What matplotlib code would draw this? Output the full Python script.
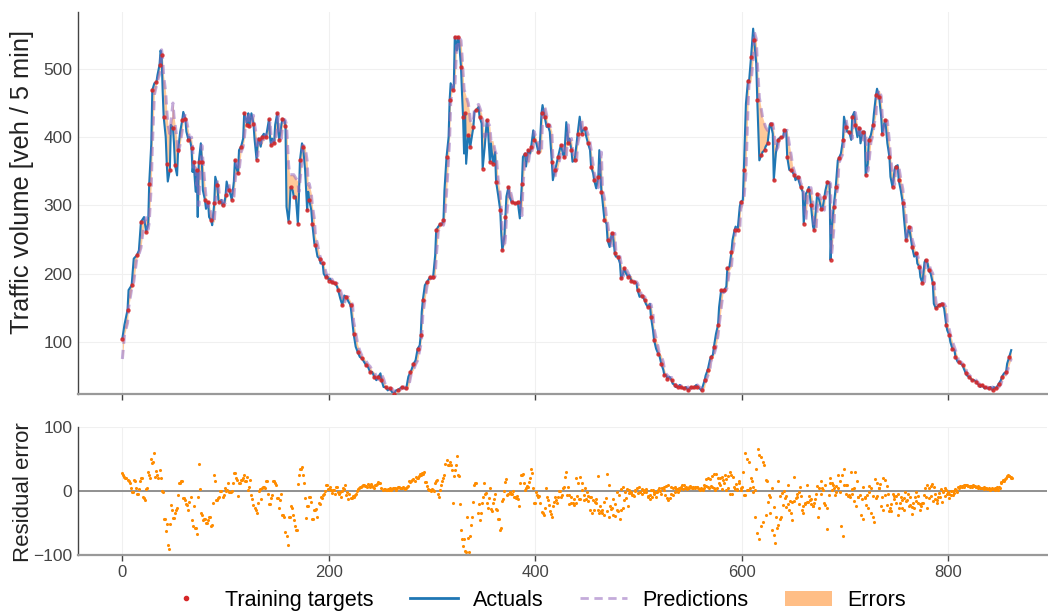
import numpy as np
import matplotlib
matplotlib.use("Agg")
import matplotlib.pyplot as plt
from matplotlib.lines import Line2D
from matplotlib.patches import Patch

# sample index (5 min steps)
t = [0, 2, 5, 6, 9, 11, 14, 16, 18, 21,
     23, 25, 26, 28, 29, 31, 33, 34, 36, 37,
     38, 39, 40, 42, 43, 44, 46, 47, 49, 50,
     51, 53, 54, 56, 58, 59, 61, 62, 64, 65,
     67, 68, 69, 71, 72, 73, 74, 76, 77, 78,
     80, 81, 83, 84, 86, 87, 89, 90, 92, 93,
     94, 96, 97, 99, 100, 101, 103, 104, 106, 108,
     109, 111, 112, 113, 115, 117, 118, 120, 121, 122,
     123, 125, 127, 128, 130, 131, 132, 134, 135, 137,
     139, 140, 142, 143, 144, 145, 147, 148, 150, 151,
     152, 154, 155, 157, 158, 159, 161, 162, 163, 165,
     166, 168, 170, 171, 172, 174, 175, 177, 179, 180,
     181, 183, 184, 186, 187, 189, 191, 192, 194, 195,
     197, 198, 200, 201, 203, 204, 206, 208, 209, 211,
     213, 215, 217, 219, 221, 223, 224, 226, 228, 230,
     232, 234, 236, 238, 240, 242, 244, 246, 248, 250,
     251, 253, 255, 257, 259, 261, 263, 265, 267, 269,
     271, 273, 275, 277, 279, 280, 282, 284, 286, 288,
     289, 290, 291, 293, 295, 296, 298, 299, 301, 303,
     304, 306, 308, 309, 311, 312, 314, 316, 317, 318,
     320, 321, 322, 324, 325, 326, 328, 329, 330, 331,
     332, 333, 335, 336, 337, 338, 340, 341, 343, 345,
     346, 348, 349, 351, 353, 354, 356, 357, 359, 361,
     362, 364, 366, 367, 368, 370, 371, 372, 374, 375,
     377, 378, 380, 382, 383, 385, 387, 388, 390, 391,
     393, 395, 396, 398, 399, 401, 403, 404, 406, 407,
     409, 411, 412, 414, 416, 417, 419, 420, 422, 424,
     425, 427, 428, 430, 432, 433, 435, 436, 438, 440,
     441, 443, 445, 446, 448, 449, 451, 453, 454, 456,
     457, 459, 461, 462, 464, 465, 467, 469, 470, 472,
     474, 475, 477, 478, 480, 482, 483, 485, 486, 488,
     490, 491, 493, 494, 496, 498, 499, 501, 503, 504,
     506, 507, 509, 511, 512, 514, 515, 517, 519, 520,
     522, 524, 525, 527, 528, 530, 532, 533, 535, 536,
     538, 540, 541, 543, 544, 546, 548, 549, 551, 553,
     554, 556, 557, 559, 561, 562, 564, 565, 567, 569,
     570, 572, 573, 575, 577, 578, 580, 582, 583, 585,
     586, 588, 590, 591, 593, 594, 596, 598, 599, 601,
     602, 604, 606, 607, 609, 611, 612, 614, 615, 617,
     619, 620, 622, 623, 625, 627, 628, 630, 631, 633,
     635, 636, 638, 640, 641, 643, 644, 646, 648, 649,
     651, 652, 654, 656, 657, 659, 660, 662, 664, 665,
     667, 669, 670, 672, 673, 675, 677, 678, 680, 681,
     683, 685, 686, 687, 689, 690, 691, 693, 694, 696,
     698, 699, 701, 702, 704, 706, 707, 709, 710, 712,
     714, 715, 717, 719, 720, 722, 723, 725, 727, 728,
     730, 731, 733, 735, 736, 738, 739, 741, 743, 744,
     746, 748, 749, 751, 752, 754, 756, 757, 759, 760,
     762, 764, 765, 767, 769, 770, 772, 773, 775, 777,
     778, 780, 781, 783, 785, 786, 788, 789, 791, 793,
     794, 796, 798, 799, 801, 802, 804, 806, 807, 809,
     810, 812, 814, 815, 817, 818, 820, 822, 823, 825,
     827, 828, 830, 831, 833, 835, 836, 838, 839, 841,
     843, 844, 846, 847, 849, 851, 852, 854, 856, 857,
     859, 861]

actual = [105, 125, 147, 176, 183, 222, 227, 234, 276, 283,
          261, 273, 332, 390, 469, 479, 481, 491, 506, 527,
          520, 469, 430, 400, 361, 335, 352, 418, 413, 391,
          359, 344, 381, 408, 425, 437, 427, 408, 396, 400,
          384, 349, 364, 320, 352, 283, 364, 391, 364, 322,
          308, 295, 305, 283, 278, 271, 303, 342, 330, 308,
          305, 308, 300, 305, 315, 335, 322, 320, 308, 335,
          366, 352, 347, 381, 386, 398, 435, 425, 418, 435,
          416, 435, 420, 398, 367, 391, 398, 386, 400, 405,
          400, 408, 426, 400, 388, 398, 391, 418, 435, 408,
          396, 418, 427, 425, 416, 298, 276, 298, 327, 322,
          313, 313, 273, 313, 366, 391, 386, 352, 293, 320,
          308, 293, 273, 244, 242, 225, 222, 215, 215, 200,
          195, 198, 190, 193, 188, 186, 186, 181, 176, 164,
          154, 168, 166, 159, 154, 125, 112, 93, 85, 78,
          76, 71, 66, 63, 56, 56, 49, 44, 49, 54,
          44, 34, 34, 29, 32, 27, 24, 29, 30, 32,
          34, 32, 32, 49, 56, 59, 68, 73, 90, 95,
          110, 144, 161, 183, 188, 190, 195, 193, 195, 227,
          264, 269, 273, 271, 278, 322, 371, 400, 454, 479,
          469, 472, 547, 527, 547, 542, 503, 464, 430, 376,
          435, 361, 403, 400, 386, 396, 415, 437, 440, 444,
          430, 420, 354, 386, 425, 415, 364, 391, 361, 378,
          335, 315, 293, 259, 234, 254, 283, 313, 327, 313,
          305, 305, 303, 303, 305, 281, 332, 371, 376, 357,
          381, 376, 386, 410, 396, 391, 378, 378, 435, 447,
          430, 415, 418, 408, 364, 337, 352, 357, 371, 384,
          388, 374, 371, 422, 391, 398, 381, 364, 366, 391,
          405, 430, 405, 410, 413, 403, 391, 381, 357, 347,
          337, 325, 342, 381, 320, 308, 278, 273, 249, 239,
          259, 259, 230, 225, 225, 215, 193, 200, 208, 200,
          195, 198, 190, 188, 188, 186, 176, 166, 168, 166,
          161, 156, 151, 156, 137, 117, 103, 90, 83, 81,
          68, 59, 51, 51, 46, 49, 44, 39, 37, 34,
          34, 37, 34, 32, 32, 34, 29, 32, 34, 32,
          34, 37, 34, 32, 29, 34, 44, 51, 59, 73,
          78, 81, 93, 112, 125, 151, 176, 173, 176, 181,
          208, 210, 232, 249, 264, 269, 264, 298, 305, 308,
          352, 449, 483, 481, 518, 559, 542, 508, 454, 366,
          374, 378, 381, 386, 391, 418, 420, 405, 337, 376,
          396, 398, 400, 400, 410, 410, 371, 352, 352, 349,
          344, 337, 342, 332, 327, 320, 273, 317, 322, 327,
          300, 269, 264, 298, 317, 308, 295, 293, 313, 322,
          335, 332, 220, 264, 298, 313, 327, 366, 369, 376,
          396, 430, 415, 408, 408, 396, 430, 437, 418, 400,
          413, 391, 408, 408, 344, 361, 396, 403, 418, 435,
          462, 471, 459, 430, 405, 420, 425, 391, 371, 342,
          327, 352, 357, 359, 337, 322, 303, 283, 249, 254,
          269, 249, 239, 225, 230, 215, 210, 195, 186, 217,
          220, 215, 205, 200, 186, 156, 149, 151, 154, 156,
          156, 149, 125, 117, 110, 100, 90, 88, 78, 71,
          71, 68, 66, 61, 54, 51, 49, 46, 44, 44,
          42, 39, 37, 34, 37, 32, 34, 32, 32, 34,
          29, 34, 32, 34, 39, 44, 49, 54, 56, 68,
          78, 88]

predicted = [75, 110, 128, 150, 178, 188, 222, 228, 238, 274,
             282, 265, 275, 330, 385, 462, 476, 482, 492, 506,
             528, 515, 490, 465, 440, 420, 405, 420, 450, 430,
             420, 395, 375, 390, 410, 424, 435, 425, 410, 398,
             400, 386, 356, 362, 330, 350, 300, 360, 388, 366,
             330, 312, 298, 303, 288, 280, 275, 302, 338, 332,
             312, 306, 307, 302, 305, 314, 333, 324, 320, 311,
             332, 362, 354, 350, 378, 386, 396, 430, 426, 420,
             432, 420, 432, 420, 400, 372, 388, 396, 388, 398,
             404, 401, 407, 424, 402, 390, 396, 392, 415, 432,
             412, 398, 415, 426, 424, 418, 360, 345, 345, 345,
             345, 340, 335, 320, 335, 365, 388, 386, 365, 330,
             332, 318, 300, 280, 255, 244, 228, 223, 216, 215,
             203, 197, 198, 191, 192, 189, 186, 186, 182, 177,
             166, 156, 166, 166, 160, 155, 130, 114, 96, 87,
             80, 77, 72, 67, 64, 58, 56, 50, 45, 48,
             53, 46, 36, 34, 30, 32, 28, 25, 28, 30,
             32, 34, 32, 32, 47, 55, 59, 67, 73, 88,
             95, 108, 140, 160, 181, 188, 190, 195, 193, 196,
             224, 262, 269, 273, 271, 277, 318, 368, 398, 450,
             476, 470, 472, 540, 530, 546, 542, 520, 495, 470,
             465, 460, 450, 440, 425, 420, 425, 440, 445, 448,
             444, 435, 425, 400, 405, 422, 416, 395, 395, 380,
             376, 338, 317, 295, 262, 238, 252, 281, 312, 326,
             314, 306, 305, 303, 303, 305, 285, 328, 368, 376,
             360, 380, 377, 385, 408, 397, 391, 379, 378, 430,
             446, 432, 416, 418, 409, 368, 340, 350, 356, 370,
             383, 388, 375, 371, 418, 393, 398, 383, 366, 366,
             390, 404, 428, 407, 410, 413, 404, 392, 382, 360,
             348, 338, 326, 341, 378, 324, 310, 281, 274, 252,
             241, 257, 259, 233, 226, 225, 216, 196, 200, 207,
             201, 196, 198, 191, 188, 188, 186, 178, 168, 168,
             166, 162, 157, 152, 155, 140, 120, 105, 92, 84,
             81, 70, 60, 52, 51, 47, 48, 45, 40, 37,
             35, 34, 36, 34, 32, 32, 34, 30, 32, 34,
             32, 34, 37, 34, 32, 30, 33, 42, 50, 58,
             71, 77, 81, 92, 110, 124, 149, 174, 173, 176,
             181, 205, 210, 230, 248, 263, 268, 265, 295, 305,
             308, 348, 444, 480, 481, 515, 555, 544, 510, 458,
             440, 430, 420, 415, 410, 412, 420, 420, 410, 380,
             385, 395, 398, 400, 402, 409, 410, 390, 372, 360,
             349, 344, 338, 341, 333, 327, 318, 278, 314, 322,
             326, 303, 272, 265, 295, 316, 309, 296, 293, 311,
             321, 334, 332, 228, 262, 296, 312, 326, 362, 369,
             376, 394, 427, 416, 408, 408, 398, 428, 436, 419,
             402, 412, 393, 407, 408, 350, 360, 392, 403, 417,
             433, 460, 470, 460, 432, 408, 419, 424, 393, 373,
             346, 330, 350, 357, 358, 339, 324, 305, 286, 253,
             255, 268, 251, 240, 227, 229, 216, 210, 197, 188,
             214, 219, 215, 206, 200, 188, 160, 150, 151, 154,
             156, 156, 150, 128, 118, 111, 101, 92, 88, 79,
             72, 71, 68, 66, 62, 55, 52, 49, 47, 44,
             44, 42, 39, 37, 35, 36, 32, 34, 32, 32,
             34, 30, 33, 32, 34, 38, 43, 48, 53, 56,
             66, 76]

# residual error, samples 0..428 (even) and 1..429 (odd)
resid_a_even = [28, 22, 20, 15, 4, -1, 16, -4, 3, 20,
                -10, -14, 5, 25, 50, 45, 22, 25, 33, 0,
                -44, -62, -84, -52, -30, -42, -30, -6, 12, 15,
                -11, -20, -30, -9, -55, -58, -67, 42, -34, -45,
                -43, -50, -40, -55, -19, 15, -14, -9, 0, -6,
                0, 12, -2, 0, 28, 20, -8, 12, 17, 25,
                16, 2, 17, -13, -26, -34, 0, -12, 7, 4,
                16, -20, -11, 15, 12, -11, -26, -4, -37, -64,
                -84, -40, -27, -45, -61, 11, 34, 38, 13, -42,
                -24, -9, -43, -30, -28, -19, -9, -7, 0, 9,
                3, 2, 1, -4, 6, -5, -10, 5, 9, -1,
                -5, -11, -9, -5, 3, 6, 8, 9, 8, 11,
                7, 8, 4, 9, 14, 12, 1, 3, 1, 2,
                2, 4, 5, 4, 6, 4, 6, 3, 6, 15,
                16, 18, 22, 20, 26, 28, 29, 14, 3, 2,
                3, 0, 15, -5, 2, 15, 25, 48, 40, 41,
                -19, 33, 55, 23, -61, -86, -93, -40, -96, -53,
                -17, 12, -35, -45, -18, 12, -3, -26, 5, -31,
                -12, -28, -44, -61, -15, 0, 18, -4, -5, 0,
                -10, -8, -24, 25, 26, 1, 8, 14, 35, 4,
                -18, -6, -8, -33, -37, 4, -14, -31, -40, -17,
                -14, -10, 0, -6, 7]

resid_a_odd = [25, 21, 17, 12, -1, 17, 5, -4, 15, 21,
               -11, 3, 30, 21, 44, 60, 31, 20, 21, -2,
               -44, -52, -90, -22, -42, -35, -27, 12, 15, -11,
               -14, -22, -17, -45, -23, -58, -9, 3, -37, -43,
               -50, -45, -40, -53, 25, -14, -11, 0, -10, 5,
               2, -2, -1, 12, 28, 17, 12, 17, 20, 15,
               22, 6, -6, -22, -30, -19, 3, 4, 7, 15,
               -4, -20, -6, 15, 10, -11, -14, -37, -40, -70,
               -40, -24, -37, -55, -61, 25, 34, 25, -11, -24,
               -9, -17, -43, -30, -40, -20, -11, -5, 9, 3,
               7, -3, 2, 6, -1, -1, 0, 3, -6, -12,
               -11, -8, -6, 0, 5, 7, 10, 8, 7, 10,
               11, 6, 9, 11, 13, 4, 3, 2, 3, 4,
               3, 5, 2, 6, 4, 5, 5, 5, 8, 14,
               17, 16, 20, 23, 25, 27, 14, 8, 2, 0,
               2, 13, 17, -10, 10, 20, 42, 40, 45, 33,
               23, 40, 25, -20, -75, -75, -96, -74, -70, -40,
               10, 12, -20, -35, -10, -5, -19, -11, -28, -19,
               -5, -30, -43, -58, -13, 14, -7, -2, -5, -9,
               -11, -12, 12, 25, 13, 5, 6, 20, 28, -19,
               -1, -9, -18, -34, -27, -10, -22, -36, -23, -10,
               -18, 0, -9, 4, 22]

# residual error, samples 430..862 (read left to right) and odd samples 431..861
resid_b = [29, 7, -6, -9, -19, -22, -19, -8, -13, 22, 13, -14, 4, -1, -8, -9,
           -10, -14, -17, -18, -30, -35, -32, -30, -17, -11, 26, 9, -23, -27,
           -37, -39, -30, -32, -43, -30, -26, -14, -11, -23, -3, -1, -6, -8,
           2, 4, 7, -1, -4, 2, 2, -1, -9, -6, 1, 2, -1, -9, -1, 4, -4, 4, 2,
           -6, -11, -14, -11, -5, -6, -1, 3, -1, 2, 7, 9, 9, 7, 4, 4, 8, 4, 6,
           4, 6, 4, 2, 4, 2, 4, 8, 6, 4, 8, 7, 4, 1, 4, 13, 20, 22, 17, 25,
           18, 23, 29, 25, 22, 7, 11, 1, 15, 1, 7, -6, -6, 2, 1, 4, 15, 7, 2,
           35, 65, 56, 53, 46, 41, 17, 15, -6, -34, -61, -69, -82, -58, -53,
           -43, -40, -22, -11, -8, 9, -29, -35, -45, 22, -11, -5, -1, 7, -30,
           -23, -18, -17, -17, -14, -13, -23, -19, -5, -41, -27, 16, 4, -19,
           -22, -26, -6, 13, 2, 9, -6, -1, 4, 15, -55, -71, 35, 9, 9, -6, 30,
           -5, 4, 30, 16, -9, -6, -13, 7, -11, -22, -26, -1, -34, -40, -48,
           -11, -8, 4, 11, -10, 20, 17, 8, -5, -27, -32, -4, -8, -19, -37,
           -27, -9, -14, -11, -1, -14, -24, -22, -36, -19, -10, -1, -19, -29,
           -24, -19, -6, -9, -26, -11, 8, 11, 7, -5, -19, -10, -10, -17, -1,
           4, 2, -1, -11, -6, -6, -3, 2, -1, 4, 8, 7, 7, 9, 9, 8, 7, 8, 9, 8,
           7, 8, 7, 4, 4, 6, 4, 3, 4, 2, 4, 3, 2, 7, 2, 4, 12, 17, 15, 21,
           25, 23, 21, 20]

resid_b_odd = [-6, -20, -19, -12, 20, 13, -12, 2, -7, -12,
               -16, -30, -34, -30, -13, 24, -23, -35, -38, -31,
               -40, -28, -12, -20, -2, -6, 3, 6, -2, 3,
               1, -3, -7, 0, -3, -2, 3, -2, 3, -8,
               -13, -9, -4, -2, 2, 0, 4, 6, 8, 9,
               6, 5, 7, 3, 5, 5, 3, 5, 3, 6,
               7, 5, 6, 7, 3, 3, 9, 18, 21, 19,
               24, 26, 27, 20, 9, 3, 13, 2, 4, -4,
               -4, 3, 3, 12, 4, 30, 60, 50, 45, 20,
               -2, -40, -65, -75, -55, -48, -38, -17, -9, 5,
               -25, -40, 15, -8, -3, 0, -25, -20, -16, -17,
               -15, -10, -20, -8, -35, -20, 10, -8, -20, -24,
               -12, 8, 5, -4, 2, 10, -60, 20, 12, 5,
               8, 25, -2, 25, 10, -5, -8, -10, 3, -15,
               -24, -10, -37, -44, -9, -6, 8, 5, -8, 18,
               12, 4, -24, -29, -6, -22, -32, -20, -12, -8,
               -5, -18, -26, -30, -15, -5, -10, -25, -27, -16,
               -8, -20, -18, 5, 9, 4, -8, -15, -12, -14,
               -3, 3, 0, -8, -4, -4, 0, 0, 3, 6,
               6, 8, 9, 9, 8, 8, 6, 8, 6, 5,
               5, 5, 3, 4, 3, 3, 3, 5, 3, 6,
               14, 16, 19, 23, 24, 22]

x_ticks = [0, 200, 400, 600, 800]
y_ticks_top = [100, 200, 300, 400, 500]
y_ticks_res = [-100, 0, 100]

plt.rcParams["font.family"] = ["Liberation Sans", "DejaVu Sans"]

t = np.array(t)
actual = np.array(actual)
predicted = np.array(predicted)
res_t = np.concatenate([np.arange(0, 430, 2), np.arange(1, 430, 2),
                        np.linspace(430, 862, len(resid_b)), np.arange(431, 862, 2)])
resid = np.concatenate([resid_a_even, resid_a_odd, resid_b, resid_b_odd])

fig = plt.figure(figsize=(10.48, 6.13), dpi=100)
ax1 = fig.add_axes([0.0744, 0.357, 0.925, 0.623])
ax2 = fig.add_axes([0.0744, 0.0946, 0.925, 0.2088], sharex=ax1)

# top panel
ax1.fill_between(t, actual, predicted, color="#ff7f0e", alpha=0.42, lw=0, zorder=1)
ax1.plot(t, actual, color="#1f77b4", lw=1.5, zorder=2)
ax1.plot(t, predicted, color="#9467bd", lw=2.2, alpha=0.55, ls=(0, (3, 2)), zorder=3)
ax1.plot(t[::2], actual[::2], "o", color="#d62728", ms=2.2, alpha=0.8, zorder=4)

# bottom panel
ax2.axhline(0, color="#888888", lw=1.3, zorder=1)
ax2.scatter(res_t, resid, s=5, color="#ff8c00", lw=0, zorder=2)

ax1.set_xlim(-43, 896)
ax1.set_ylim(23.5, 583)
ax2.set_ylim(-100, 100)
ax1.set_xticks(x_ticks)
ax1.set_yticks(y_ticks_top)
ax2.set_yticks(y_ticks_res)

for ax in (ax1, ax2):
    ax.grid(color="#f0f0f0", lw=0.8)
    ax.set_axisbelow(True)
    for side in ("top", "right"):
        ax.spines[side].set_visible(False)
    ax.spines["left"].set_color("#444444")
    ax.spines["left"].set_linewidth(1.0)
    ax.spines["bottom"].set_color("#999999")
    ax.spines["bottom"].set_linewidth(1.6)
    ax.tick_params(axis="x", length=4, width=1, color="#444444", labelcolor="#444444", labelsize=12)
    ax.tick_params(axis="y", length=0, pad=4, labelcolor="#444444", labelsize=12.5)
ax1.tick_params(axis="x", labelbottom=False)

ax1.set_ylabel("Traffic volume [veh / 5 min]", fontsize=18.3, color="#222222")
ax1.yaxis.set_label_coords(-0.045, 0.555)
ax2.set_ylabel("Residual error", fontsize=16, color="#222222")
ax2.yaxis.set_label_coords(-0.045, 0.49)

handles = [
    Line2D([], [], marker="o", ls="none", color="#d62728", ms=3),
    Line2D([], [], color="#1f77b4", lw=2),
    Line2D([], [], color="#9467bd", lw=2, alpha=0.55, ls=(0, (3, 2))),
    Patch(facecolor="#ff7f0e", alpha=0.5, lw=0),
]
labels = ["Training targets", "Actuals", "Predictions", "Errors"]
fig.legend(handles, labels, loc="lower center", bbox_to_anchor=(0.51, -0.028), ncol=4,
           frameon=False, fontsize=15.5, handlelength=2.2, handletextpad=0.7,
           columnspacing=1.7)

fig.savefig("out.png", dpi=100)
